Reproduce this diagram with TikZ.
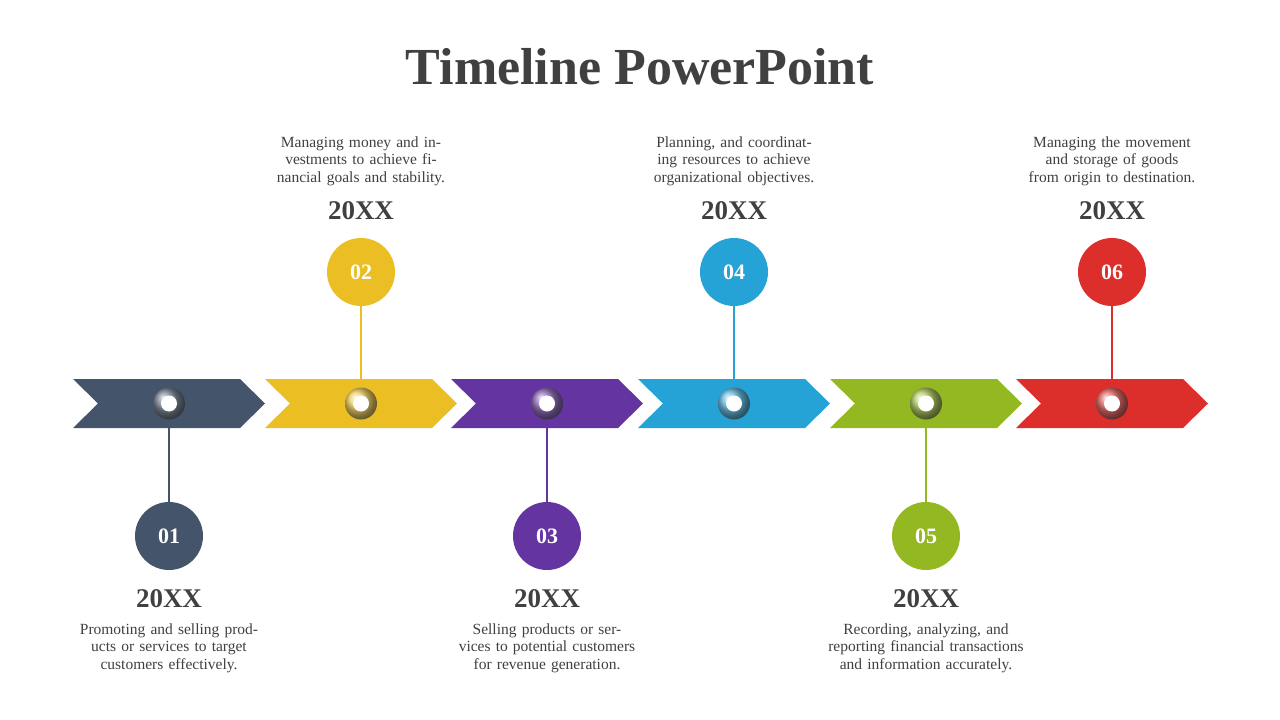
\documentclass[tikz,border=0pt]{standalone}
\usepackage{fontspec}
\setmainfont{Liberation Serif}
\definecolor{txt}{HTML}{404040}
\definecolor{cA}{HTML}{44546A}
\definecolor{cB}{HTML}{EBBE24}
\definecolor{cC}{HTML}{6434A0}
\definecolor{cD}{HTML}{25A2D6}
\definecolor{cE}{HTML}{94B822}
\definecolor{cF}{HTML}{DC2E2B}
\tikzset{
  numdot/.style={circle,minimum size=68pt,inner sep=0pt,text=white,font=\fontsize{22}{22}\selectfont\bfseries},
  year/.style={text=txt,font=\fontsize{27}{27}\selectfont\bfseries},
  note/.style={text=txt,align=center,font=\fontsize{15.5}{17.5}\selectfont,text width=215pt}
}
\begin{document}
\begin{tikzpicture}[x=1pt,y=-1pt]
    \useasboundingbox (0,0) rectangle (1280,720);
    \node[text=txt,font=\fontsize{52}{52}\selectfont\bfseries] (title) at (640,67) {Timeline PowerPoint};
    % chevrons and beads
    \foreach \x/\c/\n in {73/cA/1,265/cB/2,451/cC/3,638/cD/4,830/cE/5,1016/cF/6}{
        \fill[\c] (\x,379) -- ++(167,0) -- ++(25,24.5) -- ++(-25,24.5) -- ++(-167,0) -- ++(25,-24.5) -- cycle;
        \node[circle,minimum size=32pt,inner sep=0pt,shading=ball,ball color=\c!70!white] (b\n) at (\x+96,403.5) {};
        \fill[white] (b\n.center) circle (8);
    }
    % markers above
    \foreach \x/\c/\n/\t in {361/cB/2/{Managing money and investments to achieve financial goals and stability.},
        734/cD/4/{Planning, and coordinating resources to achieve organizational objectives.},
        1112/cF/6/{Managing the movement and storage of goods from origin to destination.}}{
        \node[numdot,fill=\c] (c\n) at (\x,272) {0\n};
        \draw[\c,line width=2.5pt] (c\n) -- (b\n);
        \node[year] (y\n) at (\x,211) {20XX};
        \node[note,anchor=south] (t\n) at (\x,189) {\t};
    }
    % markers below
    \foreach \x/\c/\n/\t in {169/cA/1/{Promoting and selling products or services to target customers effectively.},
        547/cC/3/{Selling products or services to potential customers for revenue generation.},
        926/cE/5/{Recording, analyzing, and reporting financial transactions and information accurately.}}{
        \node[numdot,fill=\c] (c\n) at (\x,536) {0\n};
        \draw[\c,line width=2.5pt] (c\n) -- (b\n);
        \node[year] (y\n) at (\x,599) {20XX};
        \node[note,anchor=north] (t\n) at (\x,620) {\t};
    }
\end{tikzpicture}
\end{document}
